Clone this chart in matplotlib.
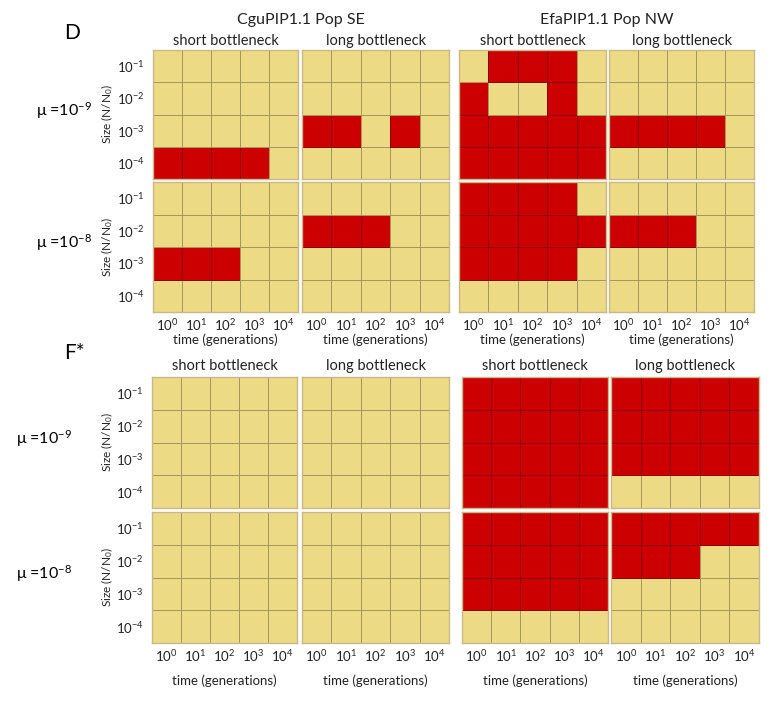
import numpy as np
import matplotlib
matplotlib.use("Agg")
import matplotlib.pyplot as plt
from matplotlib.colors import ListedColormap

plt.rcParams['font.family'] = ['Lato', 'DejaVu Sans']
plt.rcParams['mathtext.fontset'] = 'custom'
plt.rcParams['mathtext.rm'] = 'Lato'
plt.rcParams['mathtext.it'] = 'Lato:italic'

# rows: size 10^-1 (top) .. 10^-4 (bottom); columns: time 10^0 .. 10^4
size_labels = [r'$10^{-1}$', r'$10^{-2}$', r'$10^{-3}$', r'$10^{-4}$']
time_labels = [r'$10^{0}$', r'$10^{1}$', r'$10^{2}$', r'$10^{3}$', r'$10^{4}$']
species = ['CguPIP1.1 Pop SE', 'EfaPIP1.1 Pop NW']
bottlenecks = ['short bottleneck', 'long bottleneck']
mu_labels = [r'μ =10$^{-9}$', r'μ =10$^{-8}$']

# D -- 1 = red cell
D_mu9_cgu_short = [[0, 0, 0, 0, 0], [0, 0, 0, 0, 0], [0, 0, 0, 0, 0], [1, 1, 1, 1, 0]]
D_mu9_cgu_long = [[0, 0, 0, 0, 0], [0, 0, 0, 0, 0], [1, 1, 0, 1, 0], [0, 0, 0, 0, 0]]
D_mu9_efa_short = [[0, 1, 1, 1, 0], [1, 0, 0, 1, 0], [1, 1, 1, 1, 1], [1, 1, 1, 1, 1]]
D_mu9_efa_long = [[0, 0, 0, 0, 0], [0, 0, 0, 0, 0], [1, 1, 1, 1, 0], [0, 0, 0, 0, 0]]
D_mu8_cgu_short = [[0, 0, 0, 0, 0], [0, 0, 0, 0, 0], [1, 1, 1, 0, 0], [0, 0, 0, 0, 0]]
D_mu8_cgu_long = [[0, 0, 0, 0, 0], [1, 1, 1, 0, 0], [0, 0, 0, 0, 0], [0, 0, 0, 0, 0]]
D_mu8_efa_short = [[1, 1, 1, 1, 0], [1, 1, 1, 1, 1], [1, 1, 1, 1, 0], [0, 0, 0, 0, 0]]
D_mu8_efa_long = [[0, 0, 0, 0, 0], [1, 1, 1, 0, 0], [0, 0, 0, 0, 0], [0, 0, 0, 0, 0]]

# F*
F_mu9_cgu_short = [[0, 0, 0, 0, 0], [0, 0, 0, 0, 0], [0, 0, 0, 0, 0], [0, 0, 0, 0, 0]]
F_mu9_cgu_long = [[0, 0, 0, 0, 0], [0, 0, 0, 0, 0], [0, 0, 0, 0, 0], [0, 0, 0, 0, 0]]
F_mu9_efa_short = [[1, 1, 1, 1, 1], [1, 1, 1, 1, 1], [1, 1, 1, 1, 1], [1, 1, 1, 1, 1]]
F_mu9_efa_long = [[1, 1, 1, 1, 1], [1, 1, 1, 1, 1], [1, 1, 1, 1, 1], [0, 0, 0, 0, 0]]
F_mu8_cgu_short = [[0, 0, 0, 0, 0], [0, 0, 0, 0, 0], [0, 0, 0, 0, 0], [0, 0, 0, 0, 0]]
F_mu8_cgu_long = [[0, 0, 0, 0, 0], [0, 0, 0, 0, 0], [0, 0, 0, 0, 0], [0, 0, 0, 0, 0]]
F_mu8_efa_short = [[1, 1, 1, 1, 1], [1, 1, 1, 1, 1], [1, 1, 1, 1, 1], [0, 0, 0, 0, 0]]
F_mu8_efa_long = [[1, 1, 1, 1, 1], [1, 1, 1, 0, 0], [0, 0, 0, 0, 0], [0, 0, 0, 0, 0]]

D_grids = [[D_mu9_cgu_short, D_mu9_cgu_long, D_mu9_efa_short, D_mu9_efa_long],
           [D_mu8_cgu_short, D_mu8_cgu_long, D_mu8_efa_short, D_mu8_efa_long]]
F_grids = [[F_mu9_cgu_short, F_mu9_cgu_long, F_mu9_efa_short, F_mu9_efa_long],
           [F_mu8_cgu_short, F_mu8_cgu_long, F_mu8_efa_short, F_mu8_efa_long]]

W, H = 771, 702
YELLOW = '#EDDA85'
RED = '#CC0000'
cmap = ListedColormap([YELLOW, RED])

fig = plt.figure(figsize=(W / 100, H / 100), dpi=100)
fig.patch.set_facecolor('white')


def px_text(x, y, s, **kw):
    fig.text(x / W, 1 - y / H, s, ha='center', va='center', **kw)


def draw_section(grids, cols, rows, letter, letter_xy, title_y, time_y, mu_x, show_species):
    px_text(*letter_xy, letter, fontsize=15)
    if show_species:
        for k, sp in enumerate(species):
            cx = (cols[2 * k][0] + cols[2 * k + 1][1]) / 2
            px_text(cx, 20, sp, fontsize=11.5, color='#222222')
    for j, (x0, x1) in enumerate(cols):
        px_text((x0 + x1) / 2, title_y, bottlenecks[j % 2], fontsize=10.5, color='#222222')
        px_text((x0 + x1) / 2, time_y, 'time (generations)', fontsize=9.5, color='#222222')
    for i, (y0, y1) in enumerate(rows):
        px_text(mu_x, (y0 + y1) / 2 - 4, mu_labels[i], fontsize=11.5)
        px_text(107, (y0 + y1) / 2, r'Size (N/N$_0$)', fontsize=8.5, rotation=90, color='#222222')
        for j, (x0, x1) in enumerate(cols):
            ax = fig.add_axes([x0 / W, 1 - y1 / H, (x1 - x0) / W, (y1 - y0) / H])
            data = np.array(grids[i][j])
            ax.pcolormesh(np.arange(6), np.arange(5), data[::-1], cmap=cmap, vmin=0, vmax=1,
                          edgecolors=(0, 0, 0, 0.3), linewidth=0.7)
            ax.set_xlim(0, 5)
            ax.set_ylim(0, 4)
            for sp in ax.spines.values():
                sp.set_color('#C8B98A')
                sp.set_linewidth(1.0)
            ax.tick_params(length=0, labelsize=9.5, colors='#222222')
            ax.set_xticks(np.arange(5) + 0.5)
            ax.set_yticks(np.arange(4) + 0.5)
            if j == 0:
                ax.set_yticklabels(size_labels[::-1])
                ax.tick_params(axis='y', pad=6)
            else:
                ax.set_yticklabels([])
            if i == 1:
                ax.set_xticklabels(time_labels)
                ax.tick_params(axis='x', pad=4)
            else:
                ax.set_xticklabels([])


draw_section(D_grids,
             [(153, 298), (302, 449), (459, 606), (609, 754)],
             [(50, 179), (182, 312)],
             'D', (72, 33), 41, 340, 64, True)
draw_section(F_grids,
             [(152, 297), (302, 449), (462, 608), (611, 759)],
             [(377, 508), (512, 643)],
             'F*', (74, 353), 366, 681, 44, False)

fig.savefig('out.png', dpi=100, facecolor='white')
